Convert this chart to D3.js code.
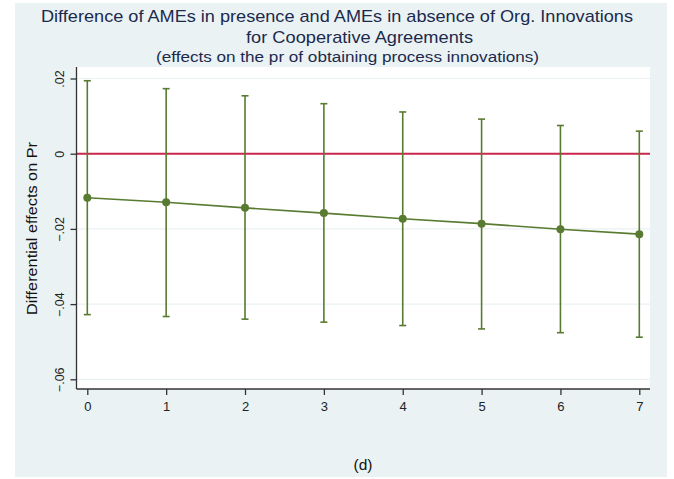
<!DOCTYPE html>
<html>
<head>
<meta charset="utf-8">
<script src="https://cdn.jsdelivr.net/npm/d3@7"></script>
<style>
  body { margin: 0; background: #fff; }
  text { font-family: "Liberation Sans", Arial, sans-serif; }
</style>
</head>
<body>
<div id="chart"></div>
<script>
// values
var xs = [0, 1, 2, 3, 4, 5, 6, 7]
var means = [-0.0117, -0.0129, -0.0144, -0.0158, -0.0173, -0.0186, -0.0201, -0.0214]
var upper = [0.0194, 0.0173, 0.0154, 0.0133, 0.0111, 0.0092, 0.0075, 0.0060]
var lower = [-0.0428, -0.0433, -0.0440, -0.0448, -0.0457, -0.0466, -0.0476, -0.0488]
var yTicks = [0.02, 0, -0.02, -0.04, -0.06]
var titleLines = ['Difference of AMEs in presence and AMEs in absence of Org. Innovations',
                  'for Cooperative Agreements',
                  '(effects on the pr of obtaining process innovations)']
var yLabel = 'Differential effects on Pr'
var note = '(d)'

var width = 674
var height = 479
var green = '#587b31'

const svg = d3.select('#chart')
  .append('svg')
  .attr('width', width)
  .attr('height', height)

// graph region
svg.append('rect')
  .attr('x', 15).attr('y', 3)
  .attr('width', 652).attr('height', 474)
  .attr('fill', '#eaf2f3')

// plot region
var plot = {left: 76.5, right: 650, top: 67, bottom: 389}
svg.append('rect')
  .attr('x', plot.left).attr('y', plot.top)
  .attr('width', plot.right - plot.left).attr('height', plot.bottom - plot.top)
  .attr('fill', '#fff')

var x = d3.scaleLinear().domain([0, 7]).range([87.3, 639.3])
var y = d3.scaleLinear().domain([-0.06, 0.02]).range([379.3, 78.5])

// gridlines
svg.selectAll('.grid')
  .data(yTicks)
  .enter()
  .append('line')
  .attr('x1', plot.left).attr('x2', plot.right)
  .attr('y1', d => y(d)).attr('y2', d => y(d))
  .attr('stroke', '#eaf2f3')
  .attr('stroke-width', 1.2)

// zero reference line
svg.append('line')
  .attr('x1', plot.left).attr('x2', plot.right)
  .attr('y1', y(0)).attr('y2', y(0))
  .attr('stroke', '#c9284c')
  .attr('stroke-width', 2)

// y axis
var fmt = function (d) {
  if (d === 0) return '0'
  return d3.format('.2f')(d).replace('0.', '.')
}
var yAxis = svg.append('g')
  .attr('transform', 'translate(' + plot.left + ',0)')
  .call(d3.axisLeft(y).tickValues(yTicks).tickFormat(fmt).tickSize(6).tickSizeOuter(0))
yAxis.select('.domain').attr('d', 'M0,' + plot.top + 'V' + plot.bottom)
yAxis.selectAll('text')
  .attr('transform', 'rotate(-90)')
  .attr('x', 0).attr('y', -13).attr('dy', 0)
  .attr('text-anchor', 'middle')
  .style('font-size', '12.5px')

// x axis
var xAxis = svg.append('g')
  .attr('transform', 'translate(0,' + plot.bottom + ')')
  .call(d3.axisBottom(x).tickValues(xs).tickFormat(d3.format('d')).tickSize(6).tickSizeOuter(0))
xAxis.select('.domain').attr('d', 'M' + plot.left + ',0H' + plot.right)
xAxis.selectAll('text')
  .attr('y', 13).attr('dy', '0.71em')
  .style('font-size', '13px')

svg.selectAll('.domain, .tick line').attr('stroke', '#333').attr('stroke-width', 1.3)
svg.selectAll('.tick text').attr('fill', '#222')

var rows = xs.map((d, i) => ({x: d, m: means[i], lo: lower[i], hi: upper[i]}))

// error bars
svg.selectAll('.bar')
  .data(rows)
  .enter()
  .append('line')
  .attr('x1', d => x(d.x)).attr('x2', d => x(d.x))
  .attr('y1', d => y(d.hi)).attr('y2', d => y(d.lo))
  .attr('stroke', green).attr('stroke-width', 1.6)

svg.selectAll('.capTop')
  .data(rows)
  .enter()
  .append('line')
  .attr('x1', d => x(d.x) - 3.5).attr('x2', d => x(d.x) + 3.5)
  .attr('y1', d => y(d.hi)).attr('y2', d => y(d.hi))
  .attr('stroke', green).attr('stroke-width', 1.6)

svg.selectAll('.capBot')
  .data(rows)
  .enter()
  .append('line')
  .attr('x1', d => x(d.x) - 3.5).attr('x2', d => x(d.x) + 3.5)
  .attr('y1', d => y(d.lo)).attr('y2', d => y(d.lo))
  .attr('stroke', green).attr('stroke-width', 1.6)

// connecting line and markers
svg.append('path')
  .datum(rows)
  .attr('d', d3.line().x(d => x(d.x)).y(d => y(d.m)))
  .attr('fill', 'none')
  .attr('stroke', green)
  .attr('stroke-width', 1.6)

svg.selectAll('.pt')
  .data(rows)
  .enter()
  .append('circle')
  .attr('cx', d => x(d.x)).attr('cy', d => y(d.m))
  .attr('r', 4)
  .attr('fill', green)

// titles: each line placed where it sits in the picture
var titlePos = [
  {cx: 337, y: 21.5, size: 17, len: 592},
  {cx: 359.5, y: 43, size: 17, len: 227},
  {cx: 347.5, y: 62, size: 14, len: 383}
]
svg.selectAll('.title')
  .data(titleLines)
  .enter()
  .append('text')
  .attr('x', (d, i) => titlePos[i].cx)
  .attr('y', (d, i) => titlePos[i].y)
  .attr('text-anchor', 'middle')
  .attr('textLength', (d, i) => titlePos[i].len)
  .attr('lengthAdjust', 'spacingAndGlyphs')
  .attr('fill', '#1c2a4e')
  .style('font-size', (d, i) => titlePos[i].size + 'px')
  .text(d => d)

svg.append('text')
  .attr('transform', 'translate(37,' + 228.5 + ') rotate(-90)')
  .attr('text-anchor', 'middle')
  .attr('textLength', 173)
  .attr('lengthAdjust', 'spacingAndGlyphs')
  .attr('fill', '#111')
  .style('font-size', '15.5px')
  .text(yLabel)

svg.append('text')
  .attr('x', 363).attr('y', 470)
  .attr('text-anchor', 'middle')
  .attr('fill', '#111')
  .style('font-size', '15.5px')
  .text(note)
</script>
</body>
</html>
